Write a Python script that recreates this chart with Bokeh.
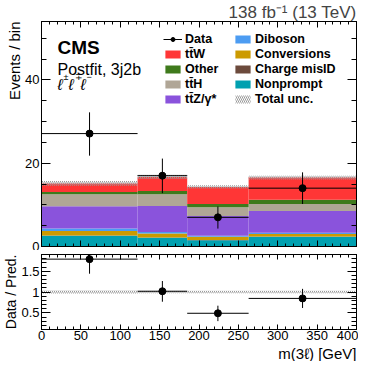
import numpy as np
from bokeh.plotting import figure
from bokeh.models import (Range1d, FixedTicker, LinearAxis, Label, Legend, LegendItem,
                          CustomLabelingPolicy, Title)
from bokeh.layouts import column
from bokeh.embed import file_html
from bokeh.resources import INLINE

# ---------------- data ----------------
bin_edges = [0, 122, 185, 263, 400]
nonprompt = [2.6, 2.1, 1.5, 2.35]
charge_misid = [0.05, 0.05, 0.05, 0.05]
conversions = [1.05, 0.95, 0.8, 0.6]
diboson = [0.6, 0.4, 0.25, 0.3]
ttz = [5.35, 6.2, 4.7, 5.25]
tth = [2.9, 2.85, 2.1, 1.65]
other = [0.55, 0.75, 0.8, 1.0]
ttw = [2.05, 3.4, 4.1, 5.35]
total_unc = [0.55, 0.5, 0.4, 0.45]
data = [27.1, 17.0, 7.0, 14.0]
data_err_lo = [5.3, 4.2, 2.7, 3.8]
data_err_hi = [5.1, 4.1, 2.6, 3.8]

x_ticks = list(range(0, 401, 50))
x_minor = list(range(0, 401, 10))
y_ticks = [0, 20, 40]
y_minor = list(range(0, 56, 5))
r_ticks = [0.5, 1, 1.5]
r_minor = [round(0.1 * i, 1) for i in range(1, 20)]

FONT = "Liberation Sans"

components = [
    ("Nonprompt", nonprompt, "#00a0b0"),
    ("Charge misID", charge_misid, "#6c4a3c"),
    ("Conversions", conversions, "#cc9a00"),
    ("Diboson", diboson, "#4c9cf2"),
    ("tt\u0304Z/\u03b3*", ttz, "#8a53dc"),
    ("tt\u0304H", tth, "#b0a696"),
    ("Other", other, "#3f7a1c"),
    ("tt\u0304W", ttw, "#ff3636"),
]

left = np.array(bin_edges[:-1], dtype=float)
right = np.array(bin_edges[1:], dtype=float)
center = (left + right) / 2

xr = Range1d(0, 400)
YMAX = 54

p = figure(width=358, height=250, x_range=xr, y_range=Range1d(0, YMAX),
           output_backend="svg", toolbar_location=None,
           min_border_left=38, min_border_right=2, min_border_top=0, min_border_bottom=4)
r = figure(width=358, height=111, x_range=xr, y_range=Range1d(0.1, 1.9),
           output_backend="svg", toolbar_location=None,
           min_border_left=38, min_border_right=2, min_border_top=4, min_border_bottom=0)

for fig in (p, r):
    fig.xgrid.visible = False
    fig.ygrid.visible = False
    fig.outline_line_color = "black"
    fig.background_fill_color = "white"
    fig.border_fill_color = "white"

NO_LABELS = "for (const i of indices) indices.unset(i)"


def style_axis(ax, ticks, minor, major_len, minor_len, labels=True, overrides=None):
    ax.ticker = FixedTicker(ticks=ticks, minor_ticks=minor)
    ax.major_tick_in = major_len
    ax.major_tick_out = 0
    ax.minor_tick_in = minor_len
    ax.minor_tick_out = 0
    ax.axis_line_color = "black"
    ax.major_tick_line_color = "black"
    ax.minor_tick_line_color = "black"
    ax.major_label_text_font = FONT
    ax.major_label_text_color = "black"
    ax.major_label_text_font_size = "13px"
    ax.major_label_standoff = 2
    if not labels:
        ax.major_label_policy = CustomLabelingPolicy(code=NO_LABELS)
        ax.major_label_text_font_size = "0px"
        ax.major_label_standoff = 0
    if overrides:
        ax.major_label_overrides = overrides


style_axis(p.xaxis[0], x_ticks, x_minor, 6, 3, labels=False)
style_axis(p.yaxis[0], y_ticks, y_minor, 9, 5)
ta = LinearAxis(); p.add_layout(ta, "above"); style_axis(ta, x_ticks, x_minor, 6, 3, labels=False)
ra = LinearAxis(); p.add_layout(ra, "right"); style_axis(ra, y_ticks, y_minor, 9, 5, labels=False)

r_over = {0.5: "0.5", 1: "1", 1.5: "1.5"}
style_axis(r.xaxis[0], x_ticks, x_minor, 5, 3)
r.xaxis[0].major_label_standoff = 1
style_axis(r.yaxis[0], r_ticks, r_minor, 9, 5, overrides=r_over)
ta2 = LinearAxis(); r.add_layout(ta2, "above"); style_axis(ta2, x_ticks, x_minor, 5, 3, labels=False)
ra2 = LinearAxis(); r.add_layout(ra2, "right"); style_axis(ra2, r_ticks, r_minor, 9, 5, labels=False)

# ---------------- titles in the borders ----------------
p.title.text = "138 fb\u207b\u00b9 (13 TeV)"
p.title.align = "right"
p.title.text_font = FONT
p.title.text_font_size = "17px"
p.title.text_font_style = "normal"
p.title.standoff = 0
p.title.offset = 0
r.title.visible = False


def side_title(fig, text, place, size):
    t = Title(text=text, align="right", text_font=FONT, text_font_size=size,
              text_font_style="normal", text_color="black", standoff=0, offset=0)
    fig.add_layout(t, place)

side_title(p, "Events / bin", "left", "15px")
side_title(r, "Data / Pred.", "left", "14px")
side_title(r, "m(3\u2113) [GeV]", "below", "15px")

# ---------------- stack ----------------
bottom = np.zeros(4)
rends = {}
for name, vals, col in components:
    top = bottom + np.array(vals)
    rends[name] = p.quad(left=left, right=right, bottom=bottom, top=top,
                         fill_color=col, line_color=None)
    bottom = top
total = bottom
unc = np.array(total_unc)

band = p.quad(left=left, right=right, bottom=total - unc, top=total + unc,
              fill_alpha=0, line_color=None, hatch_pattern="left_diagonal_line",
              hatch_color="#9a9a9a", hatch_scale=4, hatch_weight=1)

d = np.array(data)
lo = np.array(data_err_lo)
hi = np.array(data_err_hi)
dh = p.segment(x0=left, x1=right, y0=d, y1=d, line_color="black", line_width=1)
p.segment(x0=center, x1=center, y0=d - lo, y1=d + hi, line_color="black", line_width=1)
dp = p.scatter(x=center, y=d, size=7, marker="circle", fill_color="black", line_color="black")

# ---------------- ratio ----------------
r.quad(left=left, right=right, bottom=1 - unc / total, top=1 + unc / total,
       fill_alpha=0, line_color=None, hatch_pattern="left_diagonal_line",
       hatch_color="#9a9a9a", hatch_scale=4, hatch_weight=1)
rat = d / total
r.segment(x0=left, x1=right, y0=rat, y1=rat, line_color="black", line_width=1)
r.segment(x0=center, x1=center, y0=(d - lo) / total, y1=(d + hi) / total,
          line_color="black", line_width=1)
r.scatter(x=center, y=rat, size=7, marker="circle", fill_color="black", line_color="black")

# ---------------- legends ----------------
FH = 226  # expected frame height in px


def make_legend(items, loc):
    lg = Legend(items=items, location=loc, orientation="vertical")
    lg.label_text_font = FONT
    lg.label_text_font_size = "12.5px"
    lg.label_text_font_style = "bold"
    lg.label_text_color = "black"
    lg.glyph_width = 19
    lg.glyph_height = 10
    lg.label_height = 15
    lg.label_standoff = 3
    lg.spacing = 0
    lg.padding = 0
    lg.margin = 0
    lg.border_line_color = None
    lg.background_fill_alpha = 0
    return lg

items1 = [LegendItem(label="Data", renderers=[dh, dp]),
          LegendItem(label="tt\u0304W", renderers=[rends["tt\u0304W"]]),
          LegendItem(label="Other", renderers=[rends["Other"]]),
          LegendItem(label="tt\u0304H", renderers=[rends["tt\u0304H"]]),
          LegendItem(label="tt\u0304Z/\u03b3*", renderers=[rends["tt\u0304Z/\u03b3*"]])]
items2 = [LegendItem(label="Diboson", renderers=[rends["Diboson"]]),
          LegendItem(label="Conversions", renderers=[rends["Conversions"]]),
          LegendItem(label="Charge misID", renderers=[rends["Charge misID"]]),
          LegendItem(label="Nonprompt", renderers=[rends["Nonprompt"]]),
          LegendItem(label="Total unc.", renderers=[band])]
leg_y = int(FH - 11 - 75)
p.add_layout(make_legend(items1, (122, leg_y)))
p.add_layout(make_legend(items2, (192, leg_y)))

# ---------------- texts inside the frame (x screen px, y data units) ----------------
def lab(fig, text, x, y, size, align="left", style="normal"):
    fig.add_layout(Label(x=x, y=y, x_units="screen", y_units="data", text=text,
                         text_font=FONT, text_font_size=size, text_font_style=style,
                         text_align=align, text_baseline="alphabetic",
                         text_color="black"))

lab(p, "CMS", 16, 47.7, "19px", style="bold")
lab(p, "Postfit, 3j2b", 16, 42.6, "16px")
for xs, sup in ((16, "\u00b1"), (27, "\u2213"), (39, "\u2212")):
    lab(p, "\u2113", xs, 38.9, "16px", style="italic")
    lab(p, sup, xs + 6, 40.6, "9px")

layout = column(p, r, spacing=0)
open("out.html", "w").write(file_html(layout, INLINE))
